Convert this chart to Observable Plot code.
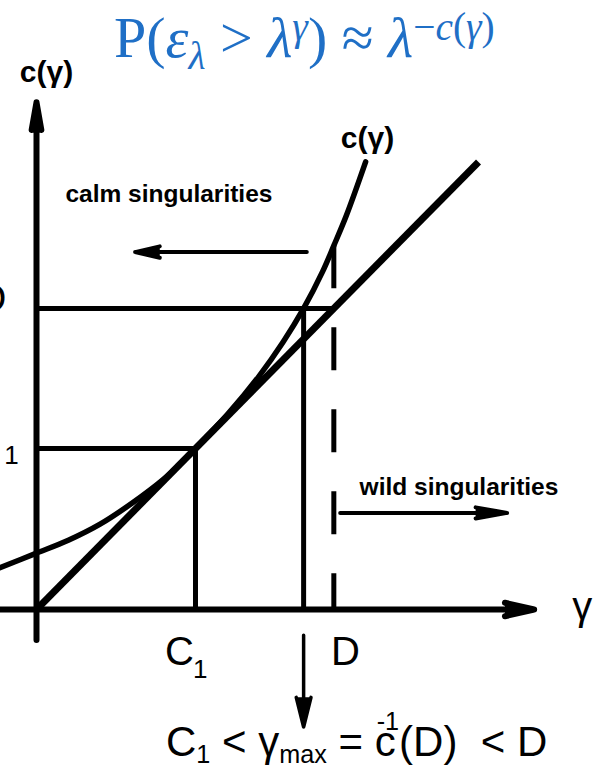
<!DOCTYPE html>
<html>
<head>
<meta charset="utf-8">
<script src="https://cdn.jsdelivr.net/npm/d3@7"></script>
<script src="https://cdn.jsdelivr.net/npm/@observablehq/plot@0.6"></script>
<style>
  html, body { margin: 0; padding: 0; background: #fff; }
  #wrap { position: relative; width: 596px; height: 772px; overflow: hidden; background: #fff; }
  #chart svg { display: block; }
  #title {
    position: absolute; left: 114px; top: 9px; white-space: nowrap;
    font-family: "Liberation Serif", "DejaVu Serif", serif; font-size: 58px; line-height: 1;
    color: #1f6fc6;
  }
  #title sub, #title sup { font-size: 0.68em; vertical-align: baseline; position: relative; line-height: 0; }
  #title sub { top: 0.3em; }
  #title sup { top: -0.42em; }
  #formula {
    position: absolute; left: 166px; top: 721px; white-space: nowrap;
    font-family: "Liberation Sans", Arial, sans-serif; font-size: 42px; line-height: 1; color: #000;
  }
  #formula sub, #formula sup { font-size: 0.6em; vertical-align: baseline; position: relative; line-height: 0; }
  #formula sub { top: 0.28em; }
  #formula sup { top: -1.02em; margin-left: -19px; }
</style>
</head>
<body>
<div id="wrap">
  <div id="chart"></div>
  <div id="title">P(<i>ε</i><sub><i>λ</i></sub> &gt; <i>λ</i><sup><i>γ</i></sup>) ≈ <i>λ</i><sup>−<i>c</i>(<i>γ</i>)</sup></div>
  <div id="formula">C<sub>1</sub> &lt; γ<sub>max</sub> = c<sup>-1</sup>(D) &nbsp;&lt; D</div>
</div>
<script>
// ---- values (x: γ, y: c(γ); units where C1 = 1) ----
const C1 = 1.0;
const D = 1.87;
const gammaMax = 1.68;
const curveGamma = [-0.23, 0.00, 0.20, 0.40, 0.60, 0.80, 0.90, 1.00, 1.20, 1.40, 1.55, 1.68, 1.80, 1.87, 1.95, 2.07];
const curveC     = [ 0.26, 0.35, 0.43, 0.53, 0.66, 0.81, 0.90, 1.00, 1.21, 1.45, 1.66, 1.87, 2.10, 2.26, 2.45, 2.78];
const bisectorGamma = [0, 2.78];           // straight line c = γ
const dashTop = 2.26;                       // dashed line at γ = D starts where it meets c(γ)
const xAxisSpan = [-0.23, 3.13];
const yAxisSpan = [-0.19, 3.15];
const calmArrowGamma = [1.70, 0.62], calmArrowC = 2.22;
const wildArrowGamma = [1.91, 2.96], wildArrowC = 0.60;
const inverseArrowC = [-0.16, -0.73];
const textCurve = "c(γ)";
const textCalm = "calm singularities";
const textWild = "wild singularities";
const textXAxis = "γ";
const tickC = "C", tickSub = "1", tickD = "D";

const curve = curveGamma.map((g, i) => ({g, c: curveC[i]}));
const bisector = bisectorGamma.map(g => ({g, c: g}));
const font = "'Liberation Sans', Arial, sans-serif";
const seg = (x1, y1, x2, y2) => [{x1, y1, x2, y2}];
const arrowOpts = {x1: "x1", y1: "y1", x2: "x2", y2: "y2", stroke: "black", fill: "black", strokeLinejoin: "miter"};

const chart = Plot.plot({
  width: 596,
  height: 772,
  margin: 0,
  x: {domain: [-0.2264, 3.522], axis: null},
  y: {domain: [-1.0124, 3.7826], axis: null},
  style: {background: "white", overflow: "hidden"},
  marks: [
    // axes with arrow heads
    Plot.arrow(seg(0, yAxisSpan[0], 0, yAxisSpan[1]), {...arrowOpts, strokeWidth: 6, headLength: 7, headAngle: 20}),
    Plot.arrow(seg(xAxisSpan[0], 0, xAxisSpan[1], 0), {...arrowOpts, strokeWidth: 6, headLength: 7.5, headAngle: 26}),
    // guide lines
    Plot.ruleY([C1], {x1: 0, x2: C1, stroke: "black", strokeWidth: 5}),
    Plot.ruleX([C1], {y1: 0, y2: C1, stroke: "black", strokeWidth: 5}),
    Plot.ruleY([D], {x1: 0, x2: D, stroke: "black", strokeWidth: 5}),
    Plot.ruleX([gammaMax], {y1: 0, y2: D, stroke: "black", strokeWidth: 5}),
    Plot.ruleX([D], {y1: dashTop, y2: 0, stroke: "black", strokeWidth: 5, strokeDasharray: "43,39"}),
    // straight line c = γ and the curve c(γ)
    Plot.line(bisector, {x: "g", y: "c", stroke: "black", strokeWidth: 7, strokeLinecap: "butt"}),
    Plot.line(curve, {x: "g", y: "c", stroke: "black", strokeWidth: 5.5, curve: "catmull-rom"}),
    // annotation arrows
    Plot.arrow(seg(calmArrowGamma[0], calmArrowC, calmArrowGamma[1], calmArrowC), {...arrowOpts, strokeWidth: 4, headLength: 9.5, headAngle: 26}),
    Plot.arrow(seg(wildArrowGamma[0], wildArrowC, wildArrowGamma[1], wildArrowC), {...arrowOpts, strokeWidth: 4, headLength: 12, headAngle: 20}),
    Plot.arrow(seg(gammaMax, inverseArrowC[0], gammaMax, inverseArrowC[1]), {...arrowOpts, strokeWidth: 3.5, headLength: 13.5, headAngle: 28}),
    // text labels
    Plot.text([textCurve], {x: 0.063, y: 3.335, text: d => d, fontSize: 30, fontWeight: "bold", fontFamily: font}),
    Plot.text([textCurve], {x: 2.082, y: 2.925, text: d => d, fontSize: 30, fontWeight: "bold", fontFamily: font}),
    Plot.text([textCalm], {x: 0.833, y: 2.578, text: d => d, fontSize: 24.5, fontWeight: "bold", fontFamily: font}),
    Plot.text([textWild], {x: 2.657, y: 0.758, text: d => d, fontSize: 24.5, fontWeight: "bold", fontFamily: font}),
    Plot.text([tickC], {x: 0.899, y: -0.267, text: d => d, fontSize: 40, fontFamily: font}),
    Plot.text([tickSub], {x: 1.03, y: -0.371, text: d => d, fontSize: 26, fontFamily: font}),
    Plot.text([tickD], {x: 1.943, y: -0.267, text: d => d, fontSize: 40, fontFamily: font}),
    Plot.text([textXAxis], {x: 3.37, y: 0.012, text: d => d, textAnchor: "start", fontSize: 40, fontFamily: font}),
    Plot.text([tickSub], {x: -0.157, y: 0.957, text: d => d, fontSize: 26, fontFamily: font}),
    Plot.text([tickD], {x: -0.189, y: 1.925, text: d => d, textAnchor: "end", fontSize: 40, fontFamily: font})
  ]
});
document.getElementById("chart").appendChild(chart);
</script>
</body>
</html>
